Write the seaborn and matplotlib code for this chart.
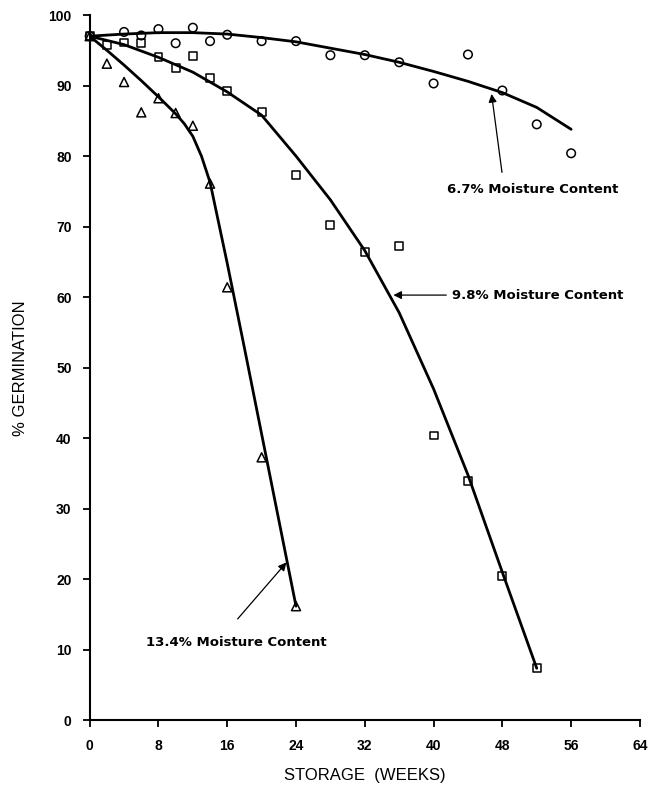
import numpy as np
import pandas as pd
import seaborn as sns
import matplotlib.pyplot as plt

# observed germination (%) vs storage weeks
wk_a = [0, 4, 6, 8, 10, 12, 14, 16, 20, 24, 28, 32, 36, 40, 44, 48, 52, 56]
ger_a = [97, 97.6, 97.1, 98, 96, 98.2, 96.3, 97.2, 96.3, 96.3, 94.3, 94.3, 93.3, 90.3, 94.4, 89.3, 84.5, 80.4]

wk_b = [0, 2, 4, 6, 8, 10, 12, 14, 16, 20, 24, 28, 32, 36, 40, 44, 48, 52]
ger_b = [97, 95.8, 96.1, 96.0, 94.0, 92.5, 94.2, 91.1, 89.2, 86.3, 77.3, 70.2, 66.4, 67.3, 40.4, 33.9, 20.5, 7.4]

wk_c = [0, 2, 4, 6, 8, 10, 12, 14, 16, 20, 24]
ger_c = [97, 93.1, 90.5, 86.2, 88.2, 86.1, 84.3, 76.1, 61.4, 37.3, 16.2]

# fitted curves
fit_wk_a = [0, 4, 8, 12, 16, 20, 24, 28, 32, 36, 40, 44, 48, 52, 56]
fit_a = [97, 97.3, 97.5, 97.5, 97.3, 96.8, 96.2, 95.3, 94.4, 93.3, 92.0, 90.6, 89.0, 86.9, 83.8]

fit_wk_b = [0, 4, 8, 12, 16, 20, 24, 28, 32, 36, 40, 44, 48, 52]
fit_b = [97, 95.8, 94.0, 91.9, 89.1, 85.8, 80.0, 73.8, 66.6, 57.8, 47.0, 34.8, 21.0, 7.4]

fit_wk_c = [0, 2, 4, 6, 8, 10, 11, 12, 13, 14, 16, 18, 20, 22, 24]
fit_c = [97, 95.0, 92.9, 90.7, 88.4, 86.0, 84.6, 82.8, 80.0, 76.3, 64.8, 52.8, 40.6, 28.4, 16.2]

labels = ["6.7% Moisture Content", "9.8% Moisture Content", "13.4% Moisture Content"]
markers = ["o", "s", "^"]

obs = pd.concat([
    pd.DataFrame({"weeks": wk_a, "germ": ger_a, "mc": labels[0]}),
    pd.DataFrame({"weeks": wk_b, "germ": ger_b, "mc": labels[1]}),
    pd.DataFrame({"weeks": wk_c, "germ": ger_c, "mc": labels[2]}),
])
fits = [(fit_wk_a, fit_a), (fit_wk_b, fit_b), (fit_wk_c, fit_c)]

sns.set_style("ticks", {"axes.edgecolor": "black", "text.color": "black",
                        "axes.labelcolor": "black", "xtick.color": "black",
                        "ytick.color": "black"})
plt.rcParams['font.family'] = ['Liberation Sans', 'DejaVu Sans']

fig = plt.figure(figsize=(6.57, 7.9), dpi=100)
ax = fig.add_axes([0.1365, 0.088, 0.8375, 0.893])

for (fx, fy) in fits:
    sns.lineplot(x=fx, y=fy, color="black", lw=2.0, ax=ax, estimator=None, sort=False)

for lab, mk, sz in zip(labels, markers, [38, 32, 42]):
    d = obs[obs["mc"] == lab]
    sns.scatterplot(data=d, x="weeks", y="germ", marker=mk, s=sz, facecolor="none",
                    edgecolor="black", linewidth=1.1, ax=ax, zorder=3, clip_on=False)

ax.set_xlim(0, 64)
ax.set_ylim(0, 100)
ax.set_xticks(np.arange(0, 65, 8))
ax.set_yticks(np.arange(0, 101, 10))
ax.tick_params(direction="out", length=5, width=1.3, labelsize=10, pad=8)
for t in ax.get_xticklabels() + ax.get_yticklabels():
    t.set_fontweight("bold")
sns.despine(ax=ax)
for s in ["left", "bottom"]:
    ax.spines[s].set_linewidth(1.5)

ax.set_xlabel("STORAGE  (WEEKS)", fontsize=12)
ax.xaxis.set_label_coords(0.5, -0.068)
ax.set_ylabel("% GERMINATION", fontsize=12)
ax.yaxis.set_label_coords(-0.112, 0.5)

# arrows + curve labels
arr = dict(arrowstyle="-|>", color="black", lw=0.9, mutation_scale=12)
lbl = dict(fontsize=9.5, fontweight="bold", va="center", family="DejaVu Sans")
ax.annotate("", xy=(46.7, 89.2), xytext=(48.0, 77.3), arrowprops=arr)
ax.text(41.6, 75.3, labels[0], **lbl)
ax.annotate("", xy=(35.0, 60.3), xytext=(41.8, 60.3), arrowprops=arr)
ax.text(42.2, 60.3, labels[1], **lbl)
ax.annotate("", xy=(23.1, 22.7), xytext=(17.0, 14.1), arrowprops=arr)
ax.text(6.5, 11.0, labels[2], **lbl)

fig.savefig("out.png", dpi=100)
